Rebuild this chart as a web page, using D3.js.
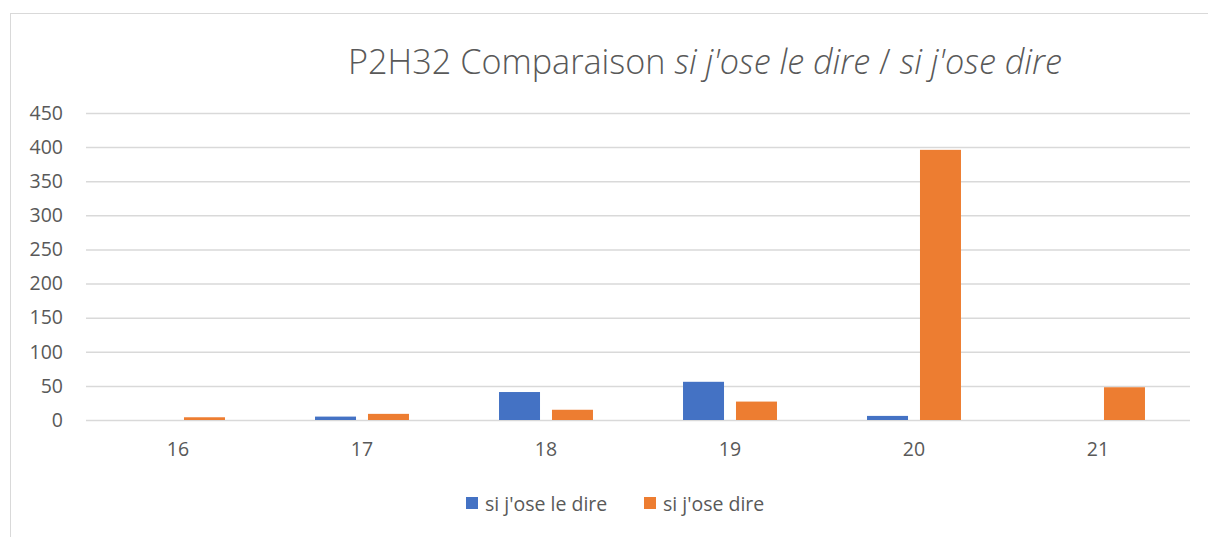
<!DOCTYPE html>
<html><head><meta charset="utf-8">
<script src="https://cdn.jsdelivr.net/npm/d3@7/dist/d3.min.js"></script>
<style>body{margin:0;background:#fff;} svg{display:block;}</style>
</head><body>
<script>
const categories = ["16","17","18","19","20","21"];
const seriesNames = ["si j'ose le dire","si j'ose dire"];
const siJoseLeDire = [0,5,41,56,6,0];
const siJoseDire = [4,9,15,27,396,48];
const yTicks = [0,50,100,150,200,250,300,350,400,450];
const colors = ["#4472c4","#ed7d31"];

(function(){
const W=1208,H=537;
const svg=d3.select("body").append("svg").attr("width",W).attr("height",H);
svg.append("rect").attr("x",10.5).attr("y",13.5).attr("width",W).attr("height",H)
  .attr("fill","#fff").attr("stroke","#d9d9d9").attr("stroke-width",1);

const pLeft=86,pRight=1190,pTop=113,pBottom=420;
const x=d3.scaleBand().domain(categories).range([pLeft,pRight]).paddingInner(0).paddingOuter(0);
const x1=d3.scaleBand().domain(seriesNames).range([0,x.bandwidth()]).paddingInner(0.226).paddingOuter(0.85);
const y=d3.scaleLinear().domain([0,450]).range([pBottom,pTop]);

const font="'Open Sans', 'Liberation Sans', sans-serif";
const fs=19.5;
const yAxis=d3.axisLeft(y).tickValues(yTicks).tickSize(-(pRight-pLeft)).tickPadding(23);
const gy=svg.append("g").attr("transform",`translate(${pLeft},0)`).call(yAxis);
gy.select(".domain").remove();
gy.selectAll(".tick line").attr("stroke","#d9d9d9").attr("stroke-width",1.5);
gy.selectAll(".tick text").attr("fill","#595959").attr("font-size",fs).attr("font-family",font);

const xAxis=d3.axisBottom(x).tickSize(0).tickPadding(22);
const gx=svg.append("g").attr("transform",`translate(0,${pBottom})`).call(xAxis);
gx.select(".domain").remove();
gx.selectAll(".tick text").attr("fill","#595959").attr("font-size",fs).attr("font-family",font);

const data=[siJoseLeDire,siJoseDire];
data.forEach((vals,si)=>{
  svg.append("g").selectAll("rect").data(vals).join("rect")
    .attr("x",(d,i)=>x(categories[i])+x1(seriesNames[si]))
    .attr("width",x1.bandwidth())
    .attr("y",d=>y(d)).attr("height",d=>y(0)-y(d))
    .attr("fill",colors[si]);
});

const title=svg.append("text").attr("x",705).attr("y",74).attr("text-anchor","middle")
  .attr("font-family",font).attr("font-weight",300).attr("fill","#595959").attr("font-size",30);
title.append("tspan").text("P2H32 Comparaison ");
title.append("tspan").attr("font-style","italic").text("si j'ose le dire");
title.append("tspan").text(" / ");
title.append("tspan").attr("font-style","italic").text("si j'ose dire");
const tw=title.node().getComputedTextLength();
title.attr("font-size",30*714/tw);

const legend=svg.append("g");
const lx=[466,644];
seriesNames.forEach((n,i)=>{
  legend.append("rect").attr("x",lx[i]).attr("y",497).attr("width",12).attr("height",12).attr("fill",colors[i]);
  legend.append("text").attr("x",lx[i]+19).attr("y",511).attr("font-family",font).attr("font-size",fs)
    .attr("fill","#595959").text(n);
});
})();
</script>
</body></html>
